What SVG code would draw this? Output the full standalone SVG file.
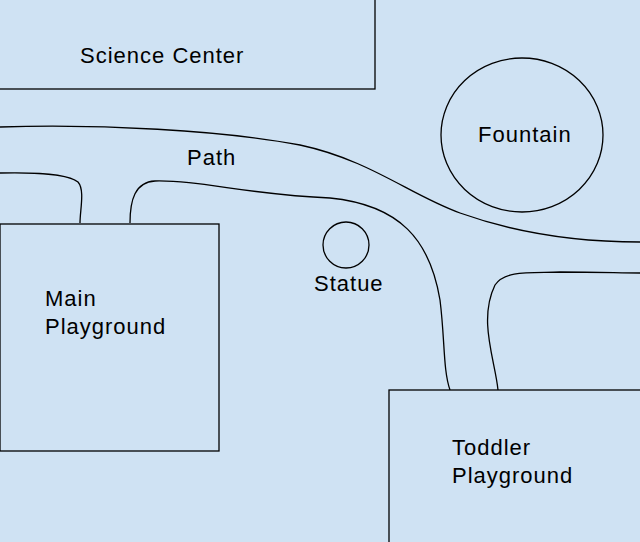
<svg xmlns="http://www.w3.org/2000/svg" width="640" height="542" viewBox="0 0 640 542">
<style>
.s{fill:#cfe2f3;stroke:#000;stroke-width:1.3}
.p{fill:none;stroke:#000;stroke-width:1.3}
text{font-family:"Liberation Sans",Arial,sans-serif;font-size:22px;letter-spacing:1px;fill:#000}
</style>
<rect width="640" height="542" fill="#cfe2f3"/>
<g id="science"><rect class="s" x="-2" y="-2" width="377" height="91"/><text x="80" y="63">Science Center</text></g>
<g id="fountain"><ellipse class="s" cx="522" cy="135" rx="81" ry="77"/><text x="478" y="142">Fountain</text></g>
<g id="connectors">
<path class="p" d="M0,127 C100,124 220,130 300,145 C370,160 410,195 460,213 C530,238 600,242 640,242"/>
<path class="p" d="M130,223 C130,200 135,182 155,181 C200,180 250,195 330,198 C400,205 430,240 440,300 C445,340 443,370 450,390"/>
<path class="p" d="M0,173 C40,172 70,175 78,182 C85,190 80,210 80,223"/>
<path class="p" d="M498,390 C495,360 478,320 495,285 C505,270 530,273 560,272 C600,272 620,273 640,273"/>
</g>
<text x="187" y="165">Path</text>
<g id="main"><rect class="s" x="0" y="224" width="219" height="227"/><text x="45" y="306">Main</text><text x="45" y="334">Playground</text></g>
<g id="statue"><circle class="s" cx="346" cy="245" r="23"/><text x="314" y="291">Statue</text></g>
<g id="toddler"><rect class="s" x="389" y="390" width="260" height="160"/><text x="452" y="455">Toddler</text><text x="452" y="483">Playground</text></g>
</svg>
